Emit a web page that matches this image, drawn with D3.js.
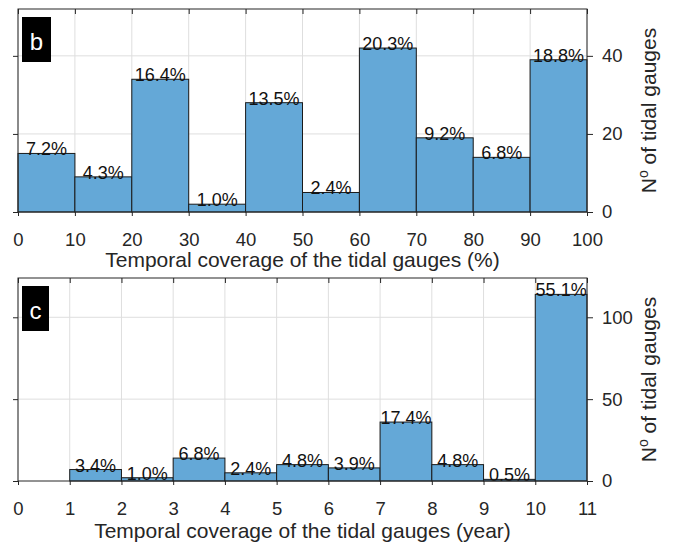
<!DOCTYPE html>
<html>
<head>
<meta charset="utf-8">
<script src="https://cdn.jsdelivr.net/npm/d3@7"></script>
<style>
  body { margin: 0; background: #fff; }
  text { font-family: Arial, "Liberation Sans", sans-serif; fill: #262626; }
</style>
</head>
<body>
<script>
// panel b: coverage in percent
const edgesB = [0, 10, 20, 30, 40, 50, 60, 70, 80, 90, 100];
const countsB = [15, 9, 34, 2, 28, 5, 42, 19, 14, 39];
const pctB = ["7.2%", "4.3%", "16.4%", "1.0%", "13.5%", "2.4%", "20.3%", "9.2%", "6.8%", "18.8%"];
const yTicksB = [0, 20, 40];

// panel c: coverage in years
const edgesC = [0, 1, 2, 3, 4, 5, 6, 7, 8, 9, 10, 11];
const countsC = [0, 7, 2, 14, 5, 10, 8, 36, 10, 1, 114];
const pctC = ["", "3.4%", "1.0%", "6.8%", "2.4%", "4.8%", "3.9%", "17.4%", "4.8%", "0.5%", "55.1%"];
const yTicksC = [0, 50, 100];

const w = 683, h = 550;
const left = 18, right = 587;
const barColor = "#64a8d7";
const axisColor = "#262626";
const gridColor = "#dedede";

const svg = d3.select("body").append("svg")
  .attr("width", w)
  .attr("height", h);

function drawPanel(cfg) {
  const x = d3.scaleLinear().domain([cfg.edges[0], cfg.edges[cfg.edges.length - 1]]).range([left, right]);
  const y = d3.scaleLinear().domain([0, cfg.yMax]).range([cfg.bottom, cfg.top]);
  const g = svg.append("g");

  // grid
  g.append("g").selectAll("line")
    .data(cfg.edges)
    .enter().append("line")
    .attr("x1", d => x(d)).attr("x2", d => x(d))
    .attr("y1", cfg.top).attr("y2", cfg.bottom)
    .attr("stroke", gridColor).attr("stroke-width", 1);
  g.append("g").selectAll("line")
    .data(cfg.yTicks.slice(1))
    .enter().append("line")
    .attr("x1", left).attr("x2", right)
    .attr("y1", d => y(d)).attr("y2", d => y(d))
    .attr("stroke", gridColor).attr("stroke-width", 1);

  // bars
  const bins = cfg.counts.map((c, i) => ({ x0: cfg.edges[i], x1: cfg.edges[i + 1], n: c, label: cfg.pct[i] }));
  g.append("g").selectAll("rect")
    .data(bins)
    .enter().append("rect")
    .attr("x", d => x(d.x0))
    .attr("y", d => y(d.n))
    .attr("width", d => x(d.x1) - x(d.x0))
    .attr("height", d => y(0) - y(d.n))
    .attr("fill", barColor)
    .attr("stroke", "#1a1a1a")
    .attr("stroke-width", 1);

  // percentage labels
  g.append("g").selectAll("text")
    .data(bins.filter(d => d.label))
    .enter().append("text")
    .attr("x", d => (x(d.x0) + x(d.x1)) / 2)
    .attr("y", d => y(d.n) + 2)
    .attr("text-anchor", "middle")
    .attr("font-size", 18)
    .style("fill", "#111")
    .text(d => d.label);

  // axes
  const gx = g.append("g")
    .attr("transform", "translate(0," + cfg.bottom + ")")
    .call(d3.axisBottom(x).tickValues(cfg.edges).tickSize(4).tickPadding(cfg.xPad));
  const gxt = g.append("g")
    .attr("transform", "translate(0," + cfg.top + ")")
    .call(d3.axisBottom(x).tickValues(cfg.edges).tickSize(5).tickFormat(""));
  const gyl = g.append("g")
    .attr("transform", "translate(" + left + ",0)")
    .call(d3.axisLeft(y).tickValues(cfg.yTicks).tickSize(5).tickFormat(""));
  const gyr = g.append("g")
    .attr("transform", "translate(" + right + ",0)")
    .call(d3.axisRight(y).tickValues(cfg.yTicks).tickSize(6).tickPadding(9));

  [gx, gxt, gyl, gyr].forEach(a => {
    a.select(".domain").remove();
    a.selectAll("line").attr("stroke", axisColor);
    a.selectAll("text").attr("font-size", 18.5).attr("font-family", null).style("fill", axisColor);
  });

  // box
  g.append("rect")
    .attr("x", left).attr("y", cfg.top)
    .attr("width", right - left).attr("height", cfg.bottom - cfg.top)
    .attr("fill", "none").attr("stroke", axisColor).attr("stroke-width", 1);

  // x label
  g.append("text")
    .attr("x", (left + right) / 2)
    .attr("y", cfg.bottom + cfg.xLabelOff)
    .attr("text-anchor", "middle")
    .attr("font-size", 21)
    .text(cfg.xLabel);

  // y label
  const yl = g.append("text")
    .attr("transform", "translate(656," + ((cfg.top + cfg.bottom) / 2) + ") rotate(-90)")
    .attr("text-anchor", "middle")
    .attr("font-size", 21);
  yl.append("tspan").text("N");
  yl.append("tspan").attr("dy", -8).attr("font-size", 14).text("o");
  yl.append("tspan").attr("dy", 8).text(" of tidal gauges");

  // panel tag
  g.append("rect")
    .attr("x", 22).attr("y", cfg.top + 8)
    .attr("width", cfg.tagW).attr("height", 45)
    .attr("fill", "#000");
  g.append("text")
    .attr("x", 22 + cfg.tagW / 2)
    .attr("y", cfg.top + 41)
    .attr("text-anchor", "middle")
    .attr("font-size", 24)
    .style("fill", "#fff")
    .text(cfg.tag);
}

drawPanel({
  edges: edgesB, counts: countsB, pct: pctB, yTicks: yTicksB, yMax: 52,
  top: 9, bottom: 212, tag: "b", tagW: 29, xPad: 17, xLabelOff: 55,
  xLabel: "Temporal coverage of the tidal gauges (%)"
});

drawPanel({
  edges: edgesC, counts: countsC, pct: pctC, yTicks: yTicksC, yMax: 124,
  top: 278, bottom: 481, tag: "c", tagW: 27, xPad: 17, xLabelOff: 57,
  xLabel: "Temporal coverage of the tidal gauges (year)"
});
</script>
</body>
</html>
